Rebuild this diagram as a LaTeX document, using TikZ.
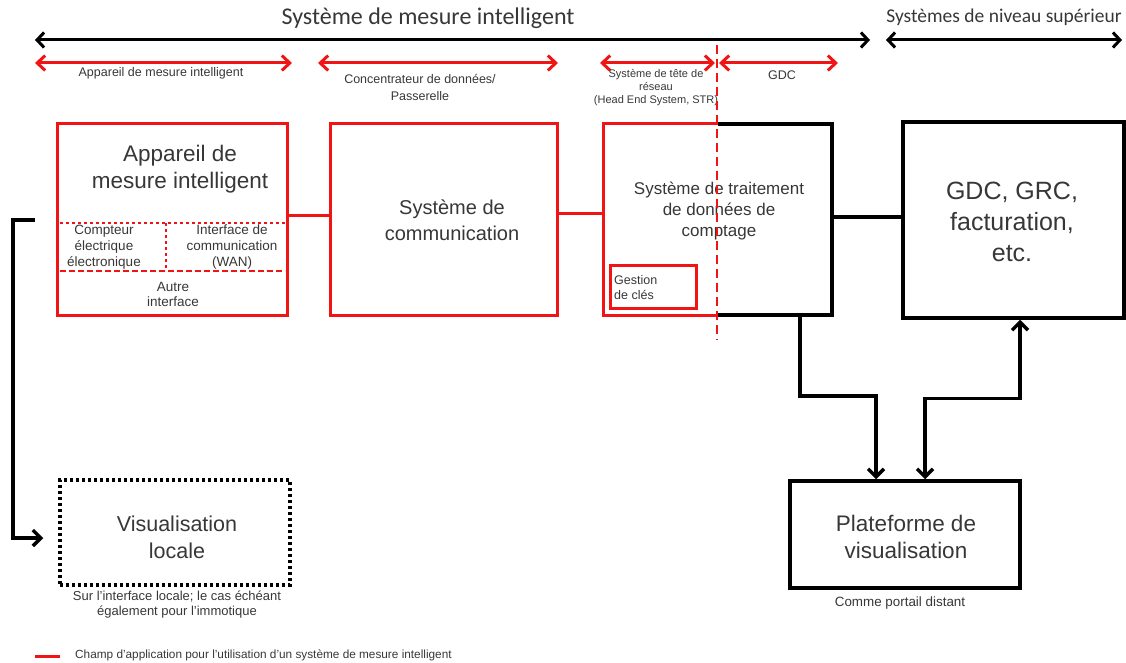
\documentclass[tikz,border=0pt]{standalone}
\usepackage{fontspec}
\setmainfont{Liberation Sans}
\newfontfamily\calfont{Carlito}
\usetikzlibrary{arrows.meta,calc}
\definecolor{myred}{RGB}{240,20,20}
\definecolor{txt}{RGB}{55,55,55}
\begin{document}
\begin{tikzpicture}[x=1pt,y=-1pt,
  box/.style={draw=black, line width=3.5pt, inner sep=0pt, align=center, text=txt},
  redbox/.style={box, draw=myred, line width=3pt},
  lbl/.style={text=txt, align=center, inner sep=0pt},
  big/.style={lbl, font=\fontsize{22.5}{27}\selectfont},
  small/.style={lbl, font=\fontsize{12.5}{17}\selectfont},
  blkarrow/.style={line width=3pt, {Straight Barb[length=7pt,width=15pt]}-{Straight Barb[length=7pt,width=15pt]}},
  redarrow/.style={myred, line width=3pt, {Straight Barb[length=8pt,width=15pt]}-{Straight Barb[length=8pt,width=15pt]}},
  blkline/.style={line width=3.5pt},
  redline/.style={myred, line width=3pt},
  flowarrow/.style={line width=3.5pt, -{Straight Barb[length=8pt,width=16pt]}},
  flowboth/.style={line width=3.5pt, {Straight Barb[length=8pt,width=16pt]}-{Straight Barb[length=8pt,width=16pt]}}
]
\useasboundingbox (0,0) rectangle (1126,663);

% top titles and arrows
\node[lbl, font=\calfont\fontsize{24}{28}\selectfont] (title) at (428,18) {Système de mesure intelligent};
\node[lbl, font=\calfont\fontsize{19.5}{23}\selectfont] (suptitle) at (1004,17) {Systèmes de niveau supérieur};
\coordinate (a1l) at (35,40); \coordinate (a1r) at (870,40);
\coordinate (a2l) at (886,40); \coordinate (a2r) at (1122,40);
\draw[blkarrow] (a1l) -- (a1r);
\draw[blkarrow] (a2l) -- (a2r);

\coordinate (r1l) at (35,63); \coordinate (r1r) at (292,63);
\coordinate (r2l) at (318,63); \coordinate (r2r) at (558,63);
\coordinate (r3l) at (600,63); \coordinate (r3r) at (715,63);
\coordinate (r4l) at (719,63); \coordinate (r4r) at (838,63);
\draw[redarrow] (r1l) -- (r1r);
\draw[redarrow] (r2l) -- (r2r);
\draw[redarrow] (r3l) -- (r3r);
\draw[redarrow] (r4l) -- (r4r);

\node[small] (lab1) at (161,73) {Appareil de mesure intelligent};
\node[small] (lab2) at (420,87) {Concentrateur de données/\\Passerelle};
\node[lbl, font=\fontsize{11}{13}\selectfont] (lab3) at (656,88) {Système de tête de\\réseau\\(Head End System, STR)};
\node[small] (lab4) at (782,75) {GDC};

% boxes
\node[redbox, minimum width=230pt, minimum height=191pt] (app) at (172,219.5) {};
\node[redbox, minimum width=227pt, minimum height=191pt] (comm) at (443.5,219.5) {};
\node[draw=none, minimum width=228pt, minimum height=191pt, inner sep=0pt] (str) at (718,219.5) {};
\draw[redline] (str.north) -| (str.south west) -- (str.south);
\draw[blkline] (str.north) -| (str.south east) -- (str.south);
\node[box, minimum width=221pt, minimum height=196pt] (gdc) at (1013.5,220) {};
\node[box, dash pattern=on 3pt off 3pt, minimum width=230pt, minimum height=105pt] (vis) at (175,532.5) {};
\node[box, minimum width=230pt, minimum height=107pt] (plat) at (905,534.5) {};
\node[redbox, minimum width=86pt, minimum height=43pt] (key) at (653,286.5) {};

% inner lines of the meter box
\draw[myred, line width=2.5pt, dash pattern=on 3pt off 3pt] (60,223) -- (285,223);
\draw[myred, line width=2.5pt, dash pattern=on 6pt off 3pt] (60,271) -- (285,271);
\draw[myred, line width=2.5pt, dash pattern=on 3pt off 3pt] (166,223) -- (166,271);

% texts in boxes
\node[big] (apptitle) at (180,169) {Appareil de\\mesure intelligent};
\node[big, font=\fontsize{20}{26}\selectfont] (commtext) at (452,220) {Système de\\communication};
\node[lbl, font=\fontsize{17}{21}\selectfont] (strtext) at (719,211) {Système de traitement\\de données de\\comptage};
\node[big, font=\fontsize{25}{31}\selectfont] (gdctext) at (1012,222) {GDC, GRC,\\facturation,\\etc.};
\node[big, font=\fontsize{21.5}{27}\selectfont] (vistext) at (177,537) {Visualisation\\locale};
\node[big] (plattext) at (906,537) {Plateforme de\\visualisation};
\node[lbl, align=left, anchor=west, font=\fontsize{12.5}{15}\selectfont] (keytext) at (614,288) {Gestion\\de clés};
\node[lbl, font=\fontsize{13.5}{16}\selectfont] (compteur) at (104,247) {Compteur\\électrique\\électronique};
\node[lbl, font=\fontsize{13.5}{16}\selectfont] (iface) at (232,247) {Interface de\\communication\\(WAN)};
\node[lbl, font=\fontsize{13.5}{15}\selectfont] (autre) at (173,294.5) {Autre\\interface};

\node[lbl, font=\fontsize{13}{15}\selectfont] (viscap) at (177,604.5) {Sur l'interface locale; le cas échéant\\également pour l'immotique};
\node[lbl, font=\fontsize{13.4}{15}\selectfont] (platcap) at (900,603) {Comme portail distant};

% connectors
\draw[redline] ([yshift=4.5pt]app.east) -- ([yshift=4.5pt]app.east -| comm.west);
\draw[redline] ([yshift=6.5pt]comm.east) -- ([yshift=6.5pt]comm.east -| str.west);
\draw[blkline] ([yshift=2.5pt]str.east) -- ([yshift=2.5pt]str.east -| gdc.west);

\coordinate (lstart) at (35,220);
\draw[flowarrow] (lstart) -| (13,538) -- ([xshift=-15pt,yshift=-5.5pt]vis.west);

\draw[flowarrow] ([xshift=82pt]str.south) -- ++(0,81) -| ([xshift=-29pt]plat.north);
\draw[flowboth] ([xshift=20pt]plat.north) -- ++(0,-81) -| ([xshift=6.5pt]gdc.south);

% dashed red boundary
\coordinate (d1) at (717,45); \coordinate (d2) at (717,340);
\draw[myred, line width=2.5pt, dash pattern=on 9pt off 5pt] (d1) -- (d2);

% legend
\coordinate (leg1) at (35,656); \coordinate (leg2) at (60,656);
\draw[redline] (leg1) -- (leg2);
\node[lbl, anchor=west, font=\fontsize{11.8}{14}\selectfont] (legtext) at (75,655) {Champ d'application pour l'utilisation d'un système de mesure intelligent};
\end{tikzpicture}
\end{document}
